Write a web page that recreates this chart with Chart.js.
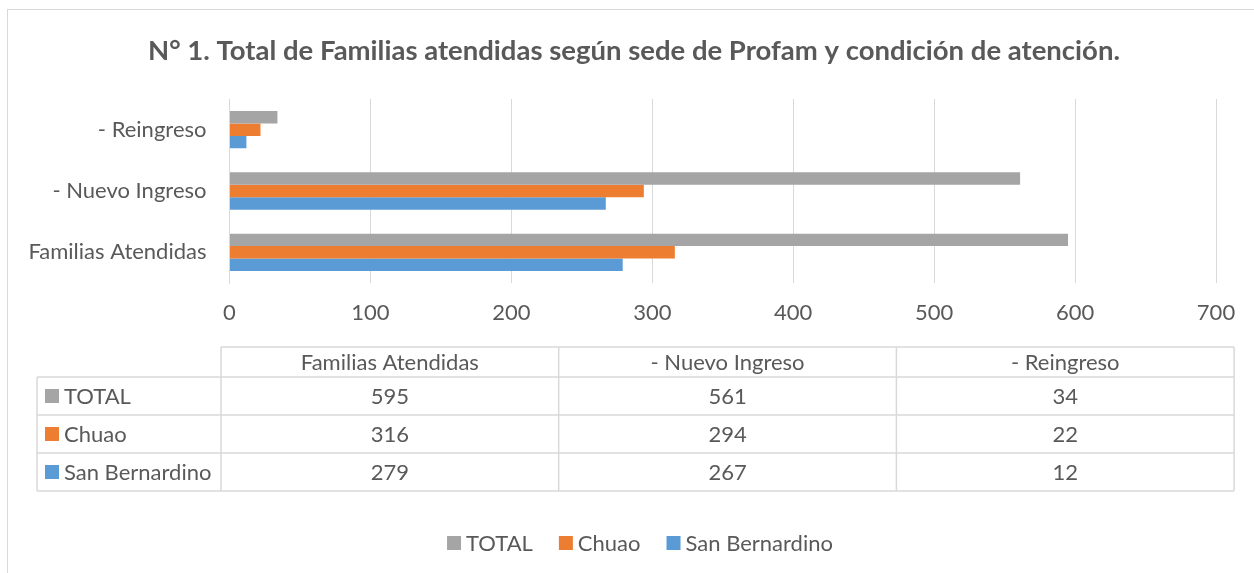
<!DOCTYPE html>
<html>
<head>
<meta charset="utf-8">
<script src="https://cdn.jsdelivr.net/npm/chart.js@4"></script>
<style>
  html, body { margin: 0; padding: 0; background: #fff; overflow: hidden; }
  #box { position: absolute; left: 7px; top: 9px; width: 1256px; height: 600px; border: 1px solid #d9d9d9; }
  #wrap { position: relative; width: 1256px; height: 570px; }
</style>
</head>
<body>
<div id="box"><div id="wrap"><canvas id="chart"></canvas></div></div>
<script>
// data
const categories = ['Familias Atendidas', '- Nuevo Ingreso', '- Reingreso'];
const seriesNames = ['TOTAL', 'Chuao', 'San Bernardino'];
const totalValues = [595, 561, 34];
const chuaoValues = [316, 294, 22];
const sanBernardinoValues = [279, 267, 12];
const seriesColors = ['#a5a5a5', '#ed7d31', '#5b9bd5'];
const xMax = 700;
const xStep = 100;
const titleText = 'N° 1. Total de Familias atendidas según sede de Profam y condición de atención.';

const FONT = 'Lato, sans-serif';
const TEXT = '#595959';
const LINE = '#d9d9d9';
const SIZE = 22;

// title, data table + legend (Excel style), drawn around the plot area
const tablePlugin = {
    id: 'tablePlugin',
    afterDraw(chart) {
        const ctx = chart.ctx;
        const ds = chart.data.datasets;
        const left = 29, labelW = 184, colW = 337.7, top = 337, headH = 30, rowH = 38;
        const colStart = left + labelW;
        const right = colStart + colW * categories.length;
        const bottom = top + headH + rowH * ds.length;

        ctx.save();
        // title
        ctx.fillStyle = TEXT;
        ctx.font = 'bold 27.5px ' + FONT;
        ctx.textAlign = 'center';
        ctx.textBaseline = 'middle';
        ctx.fillText(titleText, chart.width / 2 - 2, 41);

        ctx.strokeStyle = LINE;
        ctx.lineWidth = 1.5;
        ctx.beginPath();
        // header row (no label cell)
        ctx.moveTo(colStart, top); ctx.lineTo(right, top);
        for (let r = 0; r <= ds.length; r++) {
            const y = top + headH + r * rowH;
            ctx.moveTo(left, y); ctx.lineTo(right, y);
        }
        ctx.moveTo(left, top + headH); ctx.lineTo(left, bottom);
        for (let c = 0; c <= categories.length; c++) {
            const x = colStart + c * colW;
            ctx.moveTo(x, top); ctx.lineTo(x, bottom);
        }
        ctx.stroke();

        ctx.font = SIZE + 'px ' + FONT;
        categories.forEach((c, i) => {
            ctx.fillText(c, colStart + colW * (i + 0.5), top + headH / 2 + 1);
        });
        ds.forEach((d, r) => {
            const yc = top + headH + rowH * (r + 0.5) + 1;
            ctx.fillStyle = d.backgroundColor;
            ctx.fillRect(left + 8, yc - 8, 14, 14);
            ctx.fillStyle = TEXT;
            ctx.textAlign = 'left';
            ctx.fillText(d.label, left + 27, yc);
            ctx.textAlign = 'center';
            d.data.forEach((v, i) => {
                ctx.fillText(String(v), colStart + colW * (i + 0.5), yc);
            });
        });

        // legend
        const gap = 5, spacing = 26, box = 14;
        const widths = ds.map(d => box + gap + ctx.measureText(d.label).width);
        const total = widths.reduce((a, b) => a + b, 0) + spacing * (ds.length - 1);
        let x = chart.width / 2 - total / 2 + 4;
        const ly = 533;
        ds.forEach((d, i) => {
            ctx.fillStyle = d.backgroundColor;
            ctx.fillRect(x, ly - 7, box, box);
            ctx.fillStyle = TEXT;
            ctx.textAlign = 'left';
            ctx.fillText(d.label, x + box + gap, ly + 1);
            x += widths[i] + spacing;
        });
        ctx.restore();
    }
};

const ctx = document.getElementById('chart').getContext('2d');
new Chart(ctx, {
    type: 'bar',
    data: {
        labels: categories,
        datasets: [
            { label: seriesNames[0], data: totalValues, backgroundColor: seriesColors[0] },
            { label: seriesNames[1], data: chuaoValues, backgroundColor: seriesColors[1] },
            { label: seriesNames[2], data: sanBernardinoValues, backgroundColor: seriesColors[2] }
        ]
    },
    options: {
        indexAxis: 'y',
        responsive: true,
        maintainAspectRatio: false,
        animation: false,
        categoryPercentage: 0.61,
        barPercentage: 1.0,
        layout: { padding: { left: 8, right: 48, top: 89, bottom: 0 } },
        plugins: {
            legend: { display: false },
            tooltip: { enabled: false },
            title: { display: false }
        },
        scales: {
            x: {
                min: 0,
                max: xMax,
                ticks: { stepSize: xStep, color: TEXT, font: { family: FONT, size: SIZE }, padding: 17 },
                grid: { color: LINE, drawTicks: false },
                border: { display: false },
                afterFit(s) { s.height = 297; }
            },
            y: {
                reverse: true,
                ticks: { color: TEXT, font: { family: FONT, size: SIZE }, padding: 23 },
                grid: { display: false, drawTicks: false },
                border: { color: LINE, width: 1 },
                afterFit(s) { s.width = 213.5; }
            }
        }
    },
    plugins: [tablePlugin]
});
</script>
</body>
</html>
